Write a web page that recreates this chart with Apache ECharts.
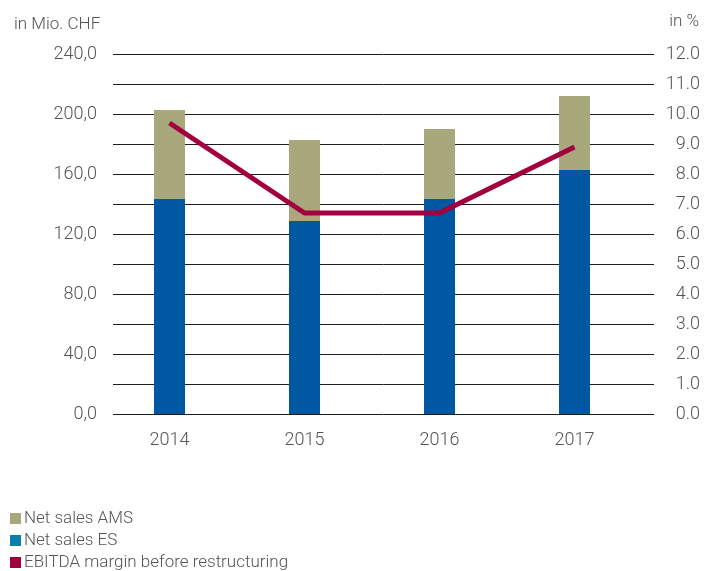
<!DOCTYPE html>
<html>
<head>
<meta charset="utf-8">
<script src="https://cdn.jsdelivr.net/npm/echarts@6/dist/echarts.min.js"></script>
<style>
html,body{margin:0;padding:0;background:#fff;}
#c{width:705px;height:571px;}
</style>
</head>
<body>
<div id="c"></div>
<script>
var categories = ['2014', '2015', '2016', '2017'];
var salesES = [143.3, 128.7, 143.3, 162.7];
var salesAMS = [59.4, 54.0, 46.7, 49.3];
var ebitdaMargin = [9.7, 6.7, 6.7, 8.9];
var leftTicks = { min: 0, max: 240, interval: 20, labelEvery: 40 };
var rightTicks = { min: 0, max: 12, interval: 1 };

var FONT = 'Roboto, "DejaVu Sans Condensed", sans-serif';
var FW = 300;
var TXT = '#555555';

var chart = echarts.init(document.getElementById('c'), null, { renderer: 'canvas' });
var option = {
  animation: false,
  textStyle: { fontFamily: FONT, fontWeight: FW },
  grid: [
    { left: 113, right: 51, top: 54, height: 360 },
    { left: 102, width: 540, top: 54, height: 360 }
  ],
  xAxis: [
    { type: 'value', gridIndex: 0, show: false, min: 0, max: 1 },
    {
      type: 'category', gridIndex: 1, data: categories,
      axisLine: { show: false }, axisTick: { show: false },
      axisLabel: { color: TXT, fontSize: 18, margin: 17, fontFamily: FONT, fontWeight: FW }
    }
  ],
  yAxis: [
    {
      type: 'value', gridIndex: 0, position: 'left',
      min: leftTicks.min, max: leftTicks.max, interval: leftTicks.interval,
      axisLine: { show: false }, axisTick: { show: false },
      splitLine: { show: true, lineStyle: { color: '#1e1e1e', width: 1 } },
      axisLabel: {
        color: TXT, fontSize: 18, margin: 16, fontFamily: FONT, fontWeight: FW,
        formatter: function (v) { return v % leftTicks.labelEvery === 0 ? v.toFixed(1).replace('.', ',') : ''; }
      }
    },
    {
      type: 'value', gridIndex: 0, position: 'right',
      min: rightTicks.min, max: rightTicks.max, interval: rightTicks.interval,
      axisLine: { show: false }, axisTick: { show: false },
      splitLine: { show: false },
      axisLabel: {
        color: TXT, fontSize: 18, margin: 46, align: 'right', fontFamily: FONT, fontWeight: FW,
        formatter: function (v) { return v.toFixed(1); }
      }
    },
    { type: 'value', gridIndex: 1, show: false, min: leftTicks.min, max: leftTicks.max, splitLine: { show: false } },
    { type: 'value', gridIndex: 1, show: false, min: rightTicks.min, max: rightTicks.max, splitLine: { show: false } }
  ],
  legend: {
    orient: 'vertical', left: 5, top: 505, height: 66,
    icon: 'rect', itemWidth: 11, itemHeight: 11, itemGap: 5,
    textStyle: { color: TXT, fontSize: 17, lineHeight: 17, fontFamily: FONT, fontWeight: FW, padding: [0, 0, 0, -2] },
    data: [
      { name: 'Net sales AMS', itemStyle: { color: '#a8a87c' } },
      { name: 'Net sales ES', itemStyle: { color: '#0b7eab' } },
      { name: 'EBITDA margin before restructuring', itemStyle: { color: '#a0003e' } }
    ]
  },
  graphic: [
    { type: 'text', left: 14, top: 16, style: { text: 'in Mio. CHF', fill: TXT, fontSize: 17, fontFamily: FONT, fontWeight: FW } },
    { type: 'text', right: 6, top: 13, style: { text: 'in %', fill: TXT, fontSize: 17, fontFamily: FONT, fontWeight: FW } }
  ],
  series: [
    {
      name: 'Net sales ES', type: 'bar', xAxisIndex: 1, yAxisIndex: 2, stack: 'sales',
      data: salesES, barWidth: 31, itemStyle: { color: '#0058a3' }
    },
    {
      name: 'Net sales AMS', type: 'bar', xAxisIndex: 1, yAxisIndex: 2, stack: 'sales',
      data: salesAMS, barWidth: 31, itemStyle: { color: '#a8a87c' }
    },
    {
      name: 'EBITDA margin before restructuring', type: 'line', xAxisIndex: 1, yAxisIndex: 3,
      data: ebitdaMargin, symbol: 'none', lineStyle: { color: '#a3003f', width: 5 },
      itemStyle: { color: '#a3003f' }, z: 5
    }
  ]
};
chart.setOption(option);
</script>
</body>
</html>
